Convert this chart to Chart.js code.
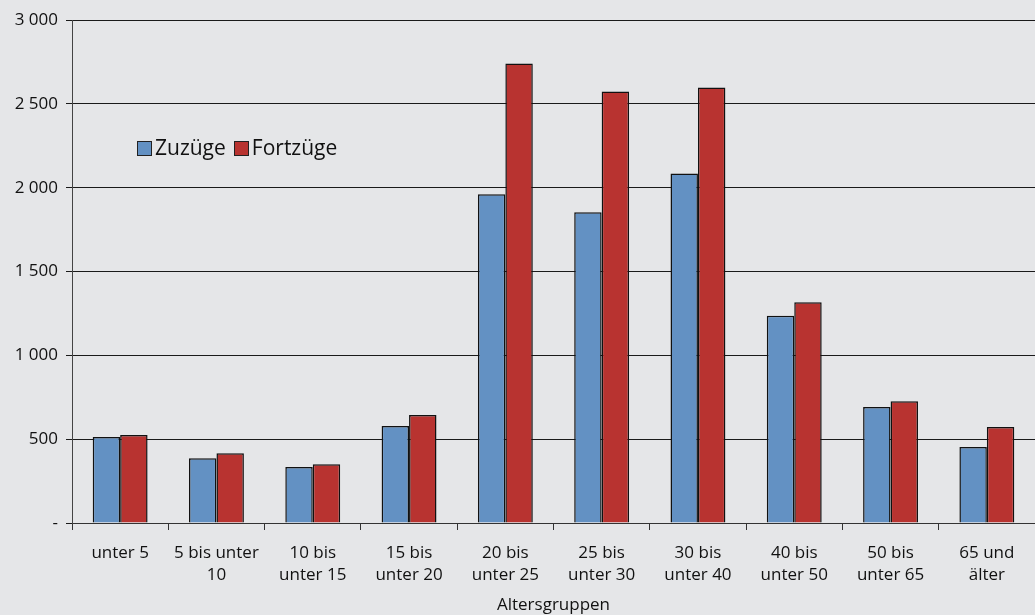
<!DOCTYPE html>
<html>
<head>
<meta charset="utf-8">
<script src="https://cdn.jsdelivr.net/npm/chart.js@4"></script>
<style>
  html, body { margin: 0; padding: 0; background: #e5e6e8; }
  #wrap { position: relative; width: 1035px; height: 615px; }
  #legend { position: absolute; left: 137px; top: 133px; font: 21px "Open Sans", sans-serif; color: #111; display: flex; gap: 8px; }
  #legend span.sw { display: inline-block; width: 13px; height: 13px; border: 1px solid #222; margin-right: 3px; vertical-align: -1px; }
</style>
</head>
<body>
<div id="wrap">
  <canvas id="chart" width="1035" height="615"></canvas>
  <div id="legend"></div>
</div>
<script>
const categories = [
  ["unter 5"], ["5 bis unter", "10"], ["10 bis", "unter 15"], ["15 bis", "unter 20"],
  ["20 bis", "unter 25"], ["25 bis", "unter 30"], ["30 bis", "unter 40"],
  ["40 bis", "unter 50"], ["50 bis", "unter 65"], ["65 und", "älter"]
];
const zuzuege = [513, 386, 334, 578, 1960, 1854, 2085, 1236, 692, 453];
const fortzuege = [525, 416, 350, 644, 2741, 2574, 2598, 1316, 726, 572];
const yTicks = [0, 500, 1000, 1500, 2000, 2500, 3000];

const fmt = (v) => (v === 0 ? "-" : String(v).replace(/\B(?=(\d{3})+(?!\d))/g, " "));
const font = { family: "'Open Sans', sans-serif", size: 17, lineHeight: 1.3 };

const chart = new Chart(document.getElementById("chart"), {
  type: "bar",
  data: {
    labels: categories,
    datasets: [
      { label: "Zuzüge", data: zuzuege, backgroundColor: "#6391c3", borderColor: "#111", borderWidth: 1.5 },
      { label: "Fortzüge", data: fortzuege, backgroundColor: "#b83330", borderColor: "#111", borderWidth: 1.5 },
    ],
  },
  options: {
    responsive: false,
    animation: false,
    layout: { padding: { top: 20, right: 0, left: 0, bottom: 0 } },
    datasets: { bar: { categoryPercentage: 0.57, barPercentage: 1 } },
    plugins: { legend: { display: false }, tooltip: { enabled: false } },
    scales: {
      x: {
        afterFit: (s) => { s.height = 92; },
        grid: { offset: true, drawOnChartArea: false, drawTicks: true, tickLength: 7, color: "#333" },
        border: { color: "#333", width: 1 },
        ticks: { color: "#111", font, maxRotation: 0, autoSkip: false, padding: 12 },
        title: { display: true, text: "Altersgruppen", color: "#111", font: { family: font.family, size: 17 }, padding: { top: 0, bottom: 0 } },
      },
      y: {
        min: 0,
        max: 3000,
        afterBuildTicks: (s) => { s.ticks = yTicks.map((v) => ({ value: v })); },
        afterFit: (s) => { s.width = 72; },
        grid: { color: "#1a1a1a", lineWidth: 1, tickLength: 6 },
        border: { color: "#444", width: 1 },
        ticks: { color: "#111", font: { family: font.family, size: 17 }, padding: 8, callback: (v) => fmt(v) },
      },
    },
  },
});

const legend = document.getElementById("legend");
chart.data.datasets.forEach((ds) => {
  const item = document.createElement("div");
  item.innerHTML = `<span class="sw" style="background:${ds.backgroundColor}"></span>${ds.label}`;
  legend.appendChild(item);
});
</script>
</body>
</html>
